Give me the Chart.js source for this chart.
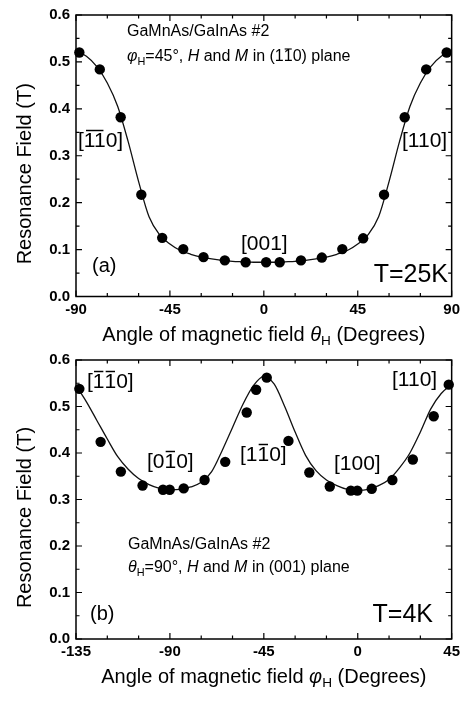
<!DOCTYPE html>
<html><head><meta charset="utf-8">
<script src="https://cdn.jsdelivr.net/npm/chart.js@4"></script>
<style>
html,body{margin:0;padding:0;background:#fff;}
#wrap{position:relative;width:464px;height:702px;}
.box{position:absolute;left:0;width:464px;}
#boxA{top:0;height:345px;}
#boxB{top:345px;height:357px;}
</style></head><body>
<div id="wrap">
<div class="box" id="boxA"><canvas id="cA"></canvas></div>
<div class="box" id="boxB"><canvas id="cB"></canvas></div>
</div>
<script>
// ---------- data: panel (a) ----------
const thetaA = [-88.4,-78.6,-68.6,-58.7,-48.7,-38.6,-28.9,-18.7,-8.7,1.1,7.6,17.8,27.8,37.6,47.6,57.6,67.5,77.8,87.6];
const fieldA = [0.520,0.484,0.382,0.217,0.125,0.101,0.084,0.077,0.073,0.073,0.073,0.077,0.083,0.101,0.124,0.217,0.382,0.484,0.520];
const fitThetaA = [-90,-85,-80,-75,-70,-65,-60,-55,-50,-45,-40,-35,-30,-25,-20,-15,-10,-5,0,5,10,15,20,25,30,35,40,45,50,55,60,65,70,75,80,85,90];
const fitA = [0.523,0.512,0.490,0.455,0.405,0.330,0.245,0.170,0.132,0.112,0.098,0.090,0.084,0.080,0.077,0.075,0.074,0.073,0.073,0.073,0.074,0.075,0.077,0.080,0.084,0.090,0.098,0.112,0.132,0.170,0.245,0.330,0.405,0.455,0.490,0.512,0.523];
const xTicksA = [-90,-45,0,45,90];

// ---------- data: panel (b) ----------
const phiB = [-133.4,-123.2,-113.5,-103.1,-93.3,-90.1,-83.4,-73.4,-63.5,-53.2,-48.7,-43.6,-33.2,-23.2,-13.4,-3.3,-0.2,6.7,16.6,26.4,36.4,43.6];
const fieldB = [0.538,0.424,0.360,0.330,0.321,0.321,0.324,0.342,0.381,0.487,0.536,0.562,0.426,0.358,0.328,0.319,0.319,0.323,0.342,0.386,0.479,0.547];
const fitPhiB = [-135,-130,-125,-120,-115,-110,-105,-100,-95,-90,-85,-80,-75,-70,-65,-60,-55,-50,-45,-40,-35,-30,-25,-20,-15,-10,-5,0,5,10,15,20,25,30,35,40,45];
const fitB = [0.545,0.510,0.470,0.430,0.392,0.365,0.345,0.332,0.324,0.321,0.322,0.327,0.337,0.360,0.405,0.455,0.505,0.545,0.565,0.548,0.500,0.445,0.395,0.362,0.342,0.330,0.322,0.320,0.322,0.330,0.343,0.368,0.400,0.445,0.495,0.528,0.547];
const xTicksB = [-135,-90,-45,0,45];

const yTicks = [0,0.1,0.2,0.3,0.4,0.5,0.6];
const yTitle = 'Resonance Field (T)';

const FAM = '"Liberation Sans", Arial, Helvetica, sans-serif';

function segFont(s, size){
  const sz = s.s ? size*0.68 : size;
  return (s.i?'italic ':'') + (s.b?'bold ':'') + sz + 'px ' + FAM;
}
function drawRich(ctx, x, y, segs, size, align){
  ctx.save();
  ctx.textBaseline = 'middle';
  ctx.textAlign = 'left';
  let total = 0;
  const widths = segs.map(s => { ctx.font = segFont(s,size); const w = ctx.measureText(s.t).width; total += w; return w; });
  let cx = align === 'center' ? x - total/2 : (align === 'right' ? x - total : x);
  segs.forEach((s,k) => {
    ctx.font = segFont(s,size);
    ctx.fillStyle = '#000';
    const yy = s.s ? y + size*0.32 : y;
    ctx.fillText(s.t, cx, yy);
    if (s.o){
      ctx.strokeStyle = '#000';
      ctx.lineWidth = Math.max(1, size*0.07);
      const oy = y - size*0.5;
      ctx.beginPath();
      ctx.moveTo(cx + widths[k]*0.1, oy);
      ctx.lineTo(cx + widths[k]*0.9, oy);
      ctx.stroke();
    }
    cx += widths[k];
  });
  ctx.restore();
}

const decor = {
  id: 'decor',
  afterDraw(chart){
    const o = chart.options.plugins.decor;
    const ctx = chart.ctx;
    const a = chart.chartArea;
    const xs = chart.scales.x, ys = chart.scales.y;
    ctx.save();
    ctx.strokeStyle = '#000';
    ctx.lineWidth = 1.5;
    ctx.strokeRect(a.left, a.top, a.right-a.left, a.bottom-a.top);
    ctx.lineWidth = 1.2;
    // x ticks (inward, top and bottom)
    for (let v = xs.min; v <= xs.max + 1e-9; v += 15){
      const major = Math.abs(((v - xs.min) % 45)) < 1e-6;
      const L = major ? 6 : 3.5;
      const px = xs.getPixelForValue(v);
      ctx.beginPath();
      ctx.moveTo(px, a.bottom); ctx.lineTo(px, a.bottom - L);
      ctx.moveTo(px, a.top); ctx.lineTo(px, a.top + L);
      ctx.stroke();
    }
    for (let k = 0; k <= 12; k++){
      const v = k*0.05;
      const L = (k % 2 === 0) ? 6 : 3.5;
      const py = ys.getPixelForValue(v);
      ctx.beginPath();
      ctx.moveTo(a.left, py); ctx.lineTo(a.left + L, py);
      ctx.moveTo(a.right, py); ctx.lineTo(a.right - L, py);
      ctx.stroke();
    }
    // y title
    ctx.save();
    ctx.translate(25, (a.top + a.bottom)/2 + 18);
    ctx.rotate(-Math.PI/2);
    ctx.font = '20px ' + FAM;
    ctx.fillStyle = '#000';
    ctx.textAlign = 'center';
    ctx.textBaseline = 'middle';
    ctx.fillText(yTitle, 0, 0);
    ctx.restore();
    // x title
    drawRich(ctx, (a.left + a.right)/2, o.xTitleY, o.xTitle, 20, 'center');
    // annotations
    o.labels.forEach(l => drawRich(ctx, l.x, l.y, l.segs, l.size, l.align || 'left'));
    ctx.restore();
  }
};

function makeChart(id, cfg){
  const pts = cfg.xs.map((x,i) => ({x, y: cfg.ys[i]}));
  const fit = cfg.fx.map((x,i) => ({x, y: cfg.fy[i]}));
  return new Chart(document.getElementById(id), {
    data: {
      datasets: [
        { type: 'line', data: fit, borderColor: '#111', borderWidth: 1.3, pointRadius: 0,
          cubicInterpolationMode: 'monotone', fill: false, order: 2 },
        { type: 'scatter', data: pts, backgroundColor: '#000', borderColor: '#000', borderWidth: 0,
          pointRadius: 5.2, pointHoverRadius: 5.2, clip: false, order: 1 }
      ]
    },
    options: {
      responsive: true, maintainAspectRatio: false, animation: false, devicePixelRatio: 1,
      events: [],
      layout: { padding: { top: cfg.padTop, right: 11, left: 0, bottom: 0 } },
      plugins: { legend: { display: false }, tooltip: { enabled: false }, decor: cfg.decor },
      scales: {
        x: { type: 'linear', min: cfg.xmin, max: cfg.xmax,
             afterBuildTicks: s => { s.ticks = cfg.xTicks.map(v => ({value: v})); },
             afterFit: s => { s.height = cfg.xH; },
             grid: { display: false, drawTicks: false }, border: { display: false },
             ticks: { color: '#000', padding: 4, maxRotation: 0, autoSkip: false,
                      font: { family: FAM, size: 15, weight: 'bold' }, callback: v => String(v) } },
        y: { type: 'linear', min: 0, max: 0.6,
             afterBuildTicks: s => { s.ticks = yTicks.map(v => ({value: v})); },
             afterFit: s => { s.width = 76; },
             grid: { display: false, drawTicks: false }, border: { display: false },
             ticks: { color: '#000', padding: 6,
                      font: { family: FAM, size: 15, weight: 'bold' }, callback: v => Number(v).toFixed(1) } }
      }
    },
    plugins: [decor]
  });
}

const S = 21;
makeChart('cA', {
  xs: thetaA, ys: fieldA, fx: fitThetaA, fy: fitA, xmin: -90, xmax: 90, xTicks: xTicksA,
  padTop: 11.5, xH: 48.5,
  decor: {
    xTitleY: 335,
    xTitle: [{t:'Angle of magnetic field '},{t:'θ',i:1},{t:'H',s:1},{t:' (Degrees)'}],
    labels: [
      {x:127, y:32, size:16, segs:[{t:'GaMnAs/GaInAs #2'}]},
      {x:127, y:57, size:16, segs:[{t:'φ',i:1},{t:'H',s:1},{t:'=45°, '},{t:'H',i:1},{t:' and '},{t:'M',i:1},{t:' in (1'},{t:'1',o:1},{t:'0) plane'}]},
      {x:78, y:141, size:S, segs:[{t:'['},{t:'11',o:1},{t:'0]'}]},
      {x:402, y:141, size:S, segs:[{t:'[110]'}]},
      {x:241, y:244, size:S, segs:[{t:'[001]'}]},
      {x:92, y:266, size:20, segs:[{t:'(a)'}]},
      {x:448, y:275, size:25, align:'right', segs:[{t:'T=25K'}]}
    ]
  }
});
makeChart('cB', {
  xs: phiB, ys: fieldB, fx: fitPhiB, fy: fitB, xmin: -135, xmax: 45, xTicks: xTicksB,
  padTop: 8, xH: 63,
  decor: {
    xTitleY: 332,
    xTitle: [{t:'Angle of magnetic field '},{t:'φ',i:1},{t:'H',s:1},{t:' (Degrees)'}],
    labels: [
      {x:87, y:37, size:S, segs:[{t:'['},{t:'1',o:1},{t:'1',o:1},{t:'0]'}]},
      {x:392, y:35, size:S, segs:[{t:'[110]'}]},
      {x:147, y:117, size:S, segs:[{t:'[0'},{t:'1',o:1},{t:'0]'}]},
      {x:240, y:110, size:S, segs:[{t:'[1'},{t:'1',o:1},{t:'0]'}]},
      {x:334, y:119, size:S, segs:[{t:'[100]'}]},
      {x:128, y:200, size:16, segs:[{t:'GaMnAs/GaInAs #2'}]},
      {x:128, y:223, size:16, segs:[{t:'θ',i:1},{t:'H',s:1},{t:'=90°, '},{t:'H',i:1},{t:' and '},{t:'M',i:1},{t:' in (001) plane'}]},
      {x:90, y:269, size:20, segs:[{t:'(b)'}]},
      {x:433, y:270, size:25, align:'right', segs:[{t:'T=4K'}]}
    ]
  }
});
</script>
</body></html>
